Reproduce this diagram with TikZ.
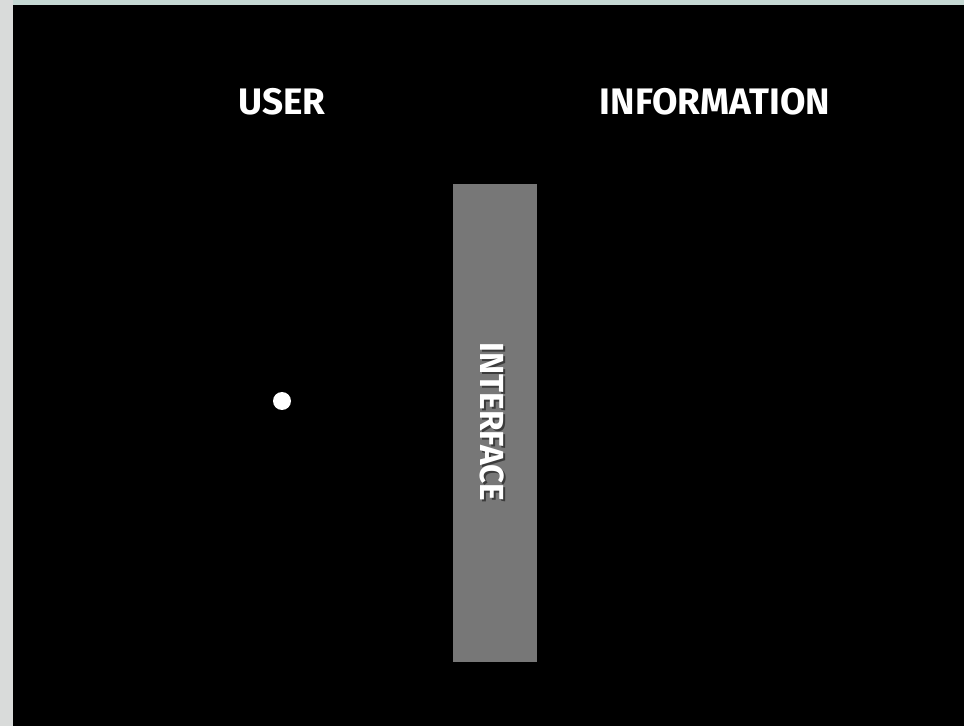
\documentclass[tikz,border=0pt]{standalone}
\usepackage{fontspec}
\setmainfont{Fira Sans}
\definecolor{frame-grey}{HTML}{D9DBDA}
\definecolor{frame-mint}{HTML}{C5D8D3}
\definecolor{bar-grey}{HTML}{777777}

\begin{document}
\begin{tikzpicture}[x=0.02cm, y=-0.02cm,
        every node/.style={font=\bfseries, text=white}]
      \useasboundingbox (0,0) rectangle (964,726);
      \fill[frame-grey] (0,0) rectangle (964,726);
      \fill[frame-mint] (13,0) rectangle (964,5);
      \fill[black] (13,5) rectangle (964,726);
      \node[font=\fontsize{21}{25}\selectfont\bfseries] (user) at (282,102) {USER};
      \node[font=\fontsize{21}{25}\selectfont\bfseries] (info) at (715,102) {INFORMATION};
      \node[fill=bar-grey, minimum width=1.68cm, minimum height=9.56cm,
            inner sep=0pt] (iface) at (495,423) {};
      \node[rotate=-90, text=black, opacity=0.5,
            font=\fontsize{19}{23}\selectfont\bfseries] (ifaceshadow) at (494,424) {INTERFACE};
      \node[rotate=-90, font=\fontsize{19}{23}\selectfont\bfseries] (ifacelabel) at (492,422) {INTERFACE};
      \node[circle, fill=white, minimum size=0.36cm, inner sep=0pt] (dot) at (282,401) {};
    \end{tikzpicture}
\end{document}
